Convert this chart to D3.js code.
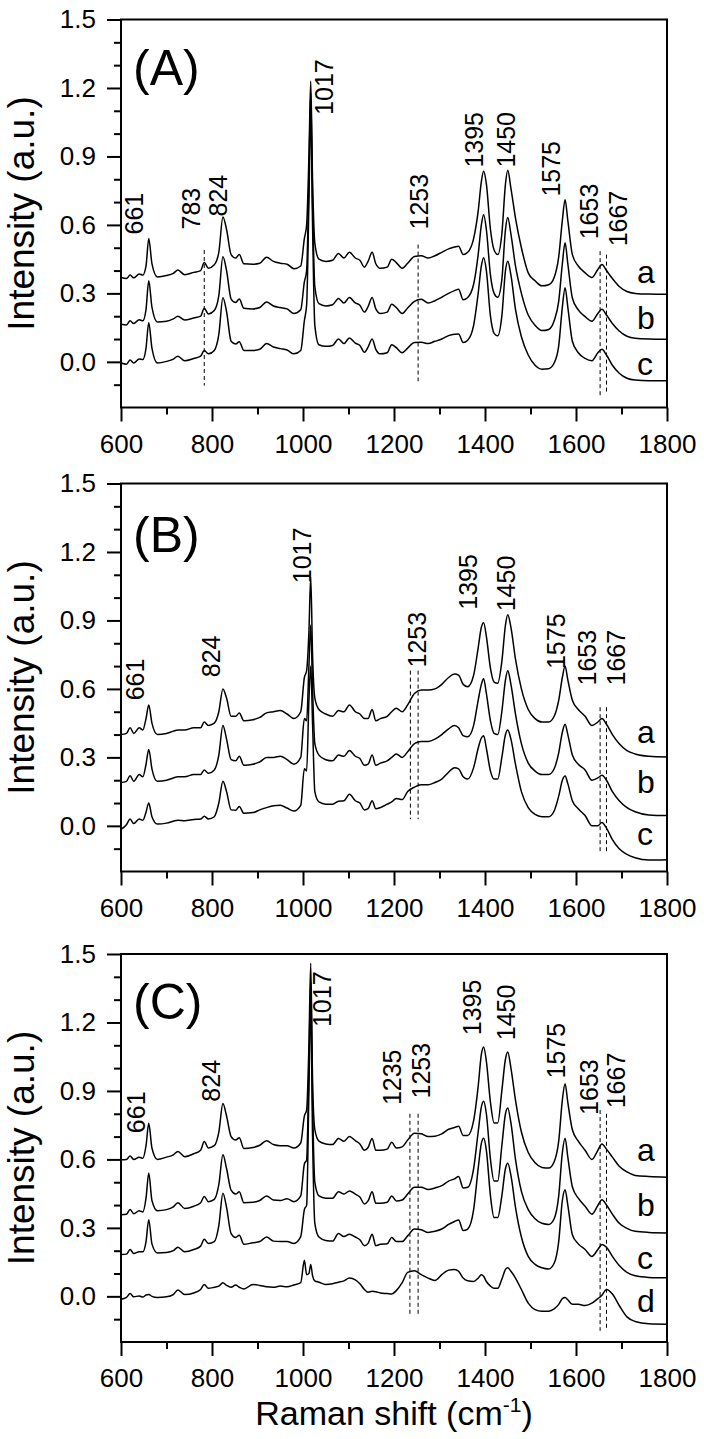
<!DOCTYPE html>
<html><head><meta charset="utf-8">
<script src="https://cdn.jsdelivr.net/npm/d3@7"></script>
<style>
body{margin:0;background:#fff}
svg{display:block}
text{font-family:"Liberation Sans",Arial,Helvetica,sans-serif;fill:#000}
</style>
</head><body>
<svg id="chart" width="704" height="1439"></svg>
<script>
// ---------- DATA ----------
const wavenumbers = [600,612,620,628,640,648,655,661,668,680,700,715,725,740,760,775,783,792,805,815,
824,832,842,852,860,870,890,905,920,935,950,965,980,995,1003,1008,1013,1017,1021,1026,
1035,1050,1065,1078,1090,1102,1115,1125,1135,1143,1152,1160,1170,1185,1195,1205,1218,1230,1245,1260,
1275,1290,1305,1320,1333,1342,1352,1362,1375,1385,1392,1397,1403,1412,1420,1428,1437,1445,1450,1457,
1467,1480,1495,1510,1525,1540,1552,1562,1570,1576,1582,1592,1605,1620,1635,1648,1657,1667,1680,1695,
1712,1730,1760,1800];

const panelA_a = [0.370,0.365,0.380,0.368,0.385,0.380,0.420,0.540,0.430,0.372,0.378,0.388,0.402,0.382,0.392,0.400,0.435,0.410,0.425,0.480,
0.635,0.580,0.470,0.455,0.470,0.430,0.428,0.432,0.458,0.440,0.432,0.428,0.408,0.420,0.540,0.600,0.900,1.230,0.800,0.520,
0.450,0.440,0.445,0.475,0.455,0.480,0.455,0.445,0.415,0.440,0.480,0.430,0.410,0.415,0.450,0.435,0.410,0.432,0.462,0.465,
0.455,0.465,0.480,0.495,0.503,0.507,0.470,0.480,0.540,0.660,0.790,0.835,0.780,0.580,0.490,0.470,0.560,0.780,0.840,0.760,
0.630,0.500,0.390,0.355,0.333,0.338,0.370,0.460,0.620,0.710,0.620,0.470,0.420,0.390,0.370,0.405,0.427,0.400,0.365,0.330,
0.308,0.300,0.297,0.296];
const panelA_b = [0.165,0.162,0.180,0.168,0.185,0.180,0.230,0.355,0.240,0.175,0.178,0.188,0.200,0.183,0.192,0.200,0.235,0.210,0.225,0.290,
0.460,0.400,0.275,0.260,0.275,0.235,0.232,0.238,0.262,0.245,0.238,0.232,0.212,0.228,0.350,0.400,0.800,1.180,0.700,0.330,
0.255,0.245,0.250,0.278,0.258,0.282,0.258,0.248,0.218,0.242,0.282,0.232,0.212,0.218,0.252,0.238,0.212,0.236,0.265,0.274,
0.258,0.268,0.283,0.300,0.312,0.318,0.272,0.282,0.340,0.470,0.600,0.645,0.580,0.380,0.300,0.283,0.360,0.580,0.632,0.560,
0.420,0.300,0.205,0.160,0.137,0.142,0.180,0.265,0.430,0.522,0.430,0.280,0.228,0.198,0.178,0.212,0.230,0.205,0.168,0.135,
0.112,0.103,0.100,0.099];
const panelA_c = [-0.005,-0.010,0.008,-0.005,0.012,0.010,0.060,0.172,0.060,-0.005,0.002,0.012,0.025,0.005,0.015,0.025,0.050,0.035,0.050,0.120,
0.281,0.220,0.090,0.078,0.088,0.050,0.050,0.055,0.080,0.065,0.058,0.052,0.035,0.050,0.180,0.250,0.700,1.100,0.600,0.160,
0.075,0.068,0.072,0.100,0.080,0.105,0.082,0.072,0.042,0.065,0.100,0.055,0.035,0.040,0.075,0.062,0.040,0.060,0.085,0.086,
0.080,0.090,0.100,0.115,0.121,0.122,0.085,0.095,0.160,0.300,0.420,0.456,0.400,0.200,0.125,0.114,0.200,0.400,0.441,0.380,
0.230,0.110,0.030,-0.015,-0.032,-0.030,-0.005,0.070,0.240,0.325,0.240,0.090,0.040,0.015,0.005,0.040,0.055,0.030,-0.015,-0.050,
-0.072,-0.080,-0.083,-0.083];

const panelB_a = [0.400,0.405,0.430,0.405,0.430,0.420,0.470,0.530,0.450,0.400,0.405,0.415,0.420,0.420,0.430,0.430,0.455,0.440,0.450,0.500,
0.600,0.560,0.480,0.480,0.495,0.460,0.465,0.475,0.495,0.500,0.505,0.490,0.470,0.500,0.650,0.680,0.850,1.090,0.750,0.560,
0.510,0.490,0.480,0.505,0.500,0.530,0.500,0.490,0.470,0.470,0.510,0.460,0.470,0.480,0.500,0.515,0.500,0.530,0.580,0.595,
0.595,0.600,0.620,0.650,0.665,0.660,0.620,0.610,0.660,0.780,0.870,0.890,0.830,0.690,0.630,0.625,0.720,0.880,0.925,0.870,
0.730,0.600,0.510,0.470,0.455,0.455,0.480,0.550,0.650,0.700,0.640,0.550,0.510,0.480,0.440,0.455,0.470,0.445,0.400,0.360,
0.330,0.315,0.305,0.302];
const panelB_b = [0.190,0.195,0.220,0.195,0.225,0.215,0.270,0.335,0.250,0.195,0.200,0.210,0.215,0.215,0.225,0.225,0.245,0.230,0.245,0.310,
0.440,0.380,0.290,0.285,0.305,0.265,0.270,0.280,0.300,0.300,0.305,0.290,0.270,0.300,0.470,0.460,0.700,0.880,0.600,0.360,
0.310,0.290,0.285,0.310,0.305,0.330,0.305,0.295,0.265,0.270,0.310,0.265,0.275,0.285,0.300,0.315,0.300,0.325,0.360,0.370,
0.370,0.380,0.400,0.425,0.440,0.430,0.395,0.390,0.440,0.550,0.620,0.645,0.580,0.460,0.405,0.400,0.500,0.640,0.680,0.620,
0.490,0.360,0.275,0.240,0.225,0.225,0.250,0.320,0.410,0.445,0.400,0.310,0.270,0.245,0.200,0.210,0.222,0.200,0.150,0.110,
0.080,0.062,0.048,0.045];
const panelB_c = [-0.015,0.005,0.030,0.010,0.030,0.025,0.060,0.100,0.040,0.008,0.012,0.020,0.025,0.022,0.028,0.030,0.042,0.030,0.040,0.100,
0.195,0.150,0.070,0.068,0.085,0.055,0.058,0.070,0.080,0.088,0.090,0.078,0.065,0.090,0.250,0.240,0.550,0.700,0.450,0.150,
0.105,0.095,0.095,0.108,0.110,0.138,0.110,0.100,0.070,0.075,0.110,0.075,0.080,0.095,0.105,0.120,0.115,0.150,0.170,0.180,
0.180,0.190,0.205,0.235,0.255,0.250,0.215,0.205,0.255,0.340,0.385,0.395,0.340,0.240,0.205,0.205,0.300,0.400,0.420,0.380,
0.270,0.150,0.080,0.050,0.040,0.040,0.065,0.130,0.200,0.218,0.185,0.110,0.075,0.045,0.000,0.000,0.015,-0.010,-0.060,-0.100,
-0.125,-0.140,-0.150,-0.148];

const panelC_a = [0.598,0.600,0.615,0.600,0.610,0.605,0.660,0.758,0.650,0.600,0.610,0.620,0.635,0.612,0.625,0.640,0.678,0.650,0.660,0.720,
0.845,0.790,0.700,0.685,0.695,0.648,0.652,0.662,0.682,0.665,0.660,0.660,0.650,0.672,0.790,0.816,1.100,1.460,0.950,0.730,
0.680,0.668,0.665,0.692,0.680,0.700,0.682,0.668,0.640,0.652,0.692,0.640,0.640,0.645,0.675,0.650,0.655,0.685,0.715,0.712,
0.700,0.702,0.712,0.732,0.740,0.745,0.705,0.705,0.770,0.920,1.060,1.093,1.030,0.850,0.760,0.760,0.900,1.040,1.071,1.000,
0.860,0.720,0.630,0.585,0.565,0.562,0.590,0.680,0.860,0.932,0.850,0.730,0.680,0.640,0.600,0.640,0.668,0.645,0.610,0.570,
0.545,0.530,0.525,0.522];
const panelC_b = [0.358,0.360,0.380,0.362,0.375,0.370,0.430,0.540,0.420,0.375,0.380,0.392,0.410,0.385,0.395,0.410,0.438,0.415,0.425,0.490,
0.620,0.560,0.465,0.448,0.458,0.410,0.412,0.420,0.440,0.422,0.420,0.428,0.415,0.440,0.580,0.598,1.000,1.380,0.850,0.500,
0.440,0.430,0.430,0.458,0.448,0.462,0.448,0.435,0.405,0.418,0.458,0.408,0.408,0.412,0.440,0.418,0.422,0.448,0.478,0.478,
0.468,0.475,0.485,0.505,0.515,0.525,0.475,0.478,0.560,0.720,0.830,0.855,0.800,0.600,0.505,0.505,0.660,0.800,0.825,0.760,
0.600,0.460,0.380,0.340,0.320,0.315,0.340,0.440,0.630,0.693,0.610,0.480,0.430,0.395,0.360,0.398,0.423,0.400,0.360,0.320,
0.298,0.285,0.280,0.278];
const panelC_c = [0.183,0.185,0.205,0.188,0.195,0.195,0.240,0.336,0.230,0.190,0.192,0.200,0.215,0.195,0.205,0.220,0.250,0.232,0.240,0.310,
0.452,0.390,0.275,0.258,0.268,0.228,0.235,0.240,0.260,0.242,0.240,0.240,0.232,0.262,0.380,0.400,0.900,1.280,0.700,0.320,
0.260,0.245,0.242,0.275,0.262,0.272,0.260,0.248,0.222,0.232,0.272,0.222,0.228,0.230,0.258,0.240,0.240,0.265,0.295,0.292,
0.280,0.285,0.295,0.315,0.328,0.335,0.288,0.295,0.380,0.560,0.670,0.693,0.640,0.440,0.345,0.345,0.440,0.560,0.583,0.530,
0.390,0.260,0.175,0.140,0.125,0.120,0.145,0.240,0.420,0.467,0.400,0.270,0.230,0.205,0.175,0.205,0.227,0.215,0.175,0.135,
0.105,0.090,0.083,0.081];
const panelC_d = [-0.013,-0.005,0.012,-0.002,0.002,-0.003,0.006,0.008,0.000,-0.005,-0.002,0.008,0.028,0.008,0.015,0.030,0.052,0.035,0.040,0.045,
0.060,0.048,0.040,0.050,0.040,0.032,0.052,0.048,0.042,0.040,0.045,0.042,0.050,0.060,0.158,0.095,0.100,0.140,0.090,0.068,
0.062,0.052,0.055,0.062,0.068,0.080,0.072,0.055,0.030,0.018,0.022,0.020,0.015,0.012,0.010,0.025,0.060,0.105,0.112,0.095,
0.080,0.070,0.095,0.115,0.118,0.110,0.080,0.068,0.065,0.080,0.095,0.088,0.065,0.045,0.035,0.035,0.075,0.118,0.125,0.110,
0.080,0.030,-0.030,-0.058,-0.065,-0.065,-0.055,-0.035,-0.010,-0.005,-0.015,-0.035,-0.035,-0.040,-0.030,-0.010,0.005,0.030,0.010,-0.040,
-0.090,-0.110,-0.120,-0.122];

const xTickValues = [600,800,1000,1200,1400,1600,1800];
const xMinorTicks = [700,900,1100,1300,1500,1700];
const yTickValues = [0.0,0.3,0.6,0.9,1.2,1.5];
const yMinorTicks = [-0.1,0.1,0.2,0.4,0.5,0.7,0.8,1.0,1.1,1.3,1.4];

const panelTitles = ["(A)","(B)","(C)"];
const seriesA = [["a",panelA_a,0.344],["b",panelA_b,0.143],["c",panelA_c,-0.058]];
const seriesB = [["a",panelB_a,0.364],["b",panelB_b,0.145],["c",panelB_c,-0.086]];
const seriesC = [["a",panelC_a,0.592],["b",panelC_b,0.353],["c",panelC_c,0.120],["d",panelC_d,-0.069]];

// peak labels: text, wavenumber of label baseline, intensity at label start
const peaksA = [["661",649,0.558],["783",774,0.580],["824",833,0.637],["1017",1066,1.082],["1253",1275,0.580],
  ["1395",1396,0.851],["1450",1466,0.851],["1575",1565,0.724],["1653",1648,0.537],["1667",1712,0.506]];
const peaksB = [["661",650,0.550],["824",818,0.651],["1017",1018,1.063],["1253",1270,0.694],
  ["1395",1382,0.947],["1450",1466,0.940],["1575",1575,0.687],["1653",1644,0.615],["1667",1708,0.615]];
const peaksC = [["661",653,0.715],["824",818,0.853],["1017",1062,1.180],["1235",1216,0.838],["1253",1279,0.867],
  ["1395",1391,1.144],["1450",1466,1.122],["1575",1575,0.955],["1653",1648,0.795],["1667",1708,0.824]];

// dashed marker lines: wavenumber, top, bottom
const dashA = [[783,0.49,-0.104],[1253,0.514,-0.085],[1653,0.485,-0.155],[1667,0.47,-0.14]];
const dashB = [[1236,0.68,0.029],[1253,0.68,0.029],[1653,0.52,-0.123],[1667,0.52,-0.123]];
const dashC = [[1235,0.80,-0.086],[1253,0.80,-0.086],[1653,0.816,-0.151],[1667,0.80,-0.151]];

// ---------- LAYOUT ----------
const svg = d3.select("#chart");
const left = 121, right = 667, plotH = 388;
const tops = [19.5, 483.5, 954];
const titleDy = [65, 68, 65];
const panels = [
  {series: seriesA, peaks: peaksA, dash: dashA},
  {series: seriesB, peaks: peaksB, dash: dashB},
  {series: seriesC, peaks: peaksC, dash: dashC}
];

const x = d3.scaleLinear().domain([600,1800]).range([left,right]);

panels.forEach((p, i) => {
  const top = tops[i];
  const y = d3.scaleLinear().domain([-0.2,1.5]).range([top + plotH, top]);
  const g = svg.append("g");

  // spectra
  const line = d3.line()
    .x((d, k) => x(wavenumbers[k]))
    .y(d => y(d))
    .curve(d3.curveMonotoneX);
  p.series.forEach(s => {
    g.append("path").attr("d", line(s[1]))
      .attr("fill","none").attr("stroke","#000").attr("stroke-width",1.5)
      .attr("stroke-linejoin","round");
    g.append("text").attr("x", 637).attr("y", y(s[2]))
      .attr("font-size", 32).text(s[0]);
  });

  // dashed lines
  p.dash.forEach(d => {
    g.append("line").attr("x1", x(d[0])).attr("x2", x(d[0]))
      .attr("y1", y(d[1])).attr("y2", y(d[2]))
      .attr("stroke","#000").attr("stroke-width",1).attr("stroke-dasharray","4,3");
  });

  // peak labels
  p.peaks.forEach(d => {
    g.append("text")
      .attr("transform", `translate(${x(d[1])},${y(d[2])}) rotate(-90)`)
      .attr("font-size", 25).text(d[0]);
  });

  // frame
  g.append("rect").attr("x", left).attr("y", top).attr("width", right-left).attr("height", plotH)
    .attr("fill","none").attr("stroke","#000").attr("stroke-width",2);

  // x axis
  const xAxis = g.append("g").attr("transform", `translate(0,${top+plotH})`)
    .call(d3.axisBottom(x).tickValues(xTickValues).tickSize(14).tickPadding(13).tickFormat(d3.format("d")));
  xAxis.call(a => a.select(".domain").remove());
  xAxis.selectAll("line").attr("stroke-width",2);
  xAxis.selectAll("text").attr("font-size",26).attr("font-family",'"Liberation Sans",Arial,sans-serif');
  const xMin = g.append("g").attr("transform", `translate(0,${top+plotH})`)
    .call(d3.axisBottom(x).tickValues(xMinorTicks).tickSize(7).tickFormat(""));
  xMin.call(a => a.select(".domain").remove());
  xMin.selectAll("line").attr("stroke-width",2);

  // y axis
  const yAxis = g.append("g").attr("transform", `translate(${left},0)`)
    .call(d3.axisLeft(y).tickValues(yTickValues).tickSize(14).tickPadding(11).tickFormat(d3.format(".1f")));
  yAxis.call(a => a.select(".domain").remove());
  yAxis.selectAll("line").attr("stroke-width",2);
  yAxis.selectAll("text").attr("font-size",26).attr("font-family",'"Liberation Sans",Arial,sans-serif');
  const yMin = g.append("g").attr("transform", `translate(${left},0)`)
    .call(d3.axisLeft(y).tickValues(yMinorTicks).tickSize(7).tickFormat(""));
  yMin.call(a => a.select(".domain").remove());
  yMin.selectAll("line").attr("stroke-width",2);

  // panel title
  g.append("text").attr("x", 133).attr("y", top + titleDy[i]).attr("font-size", 50).text(panelTitles[i]);

  // y axis title
  g.append("text").attr("transform", `translate(34,${top + plotH/2}) rotate(-90)`)
    .attr("text-anchor","middle").attr("font-size", 37).text("Intensity (a.u.)");
});

// x axis title
const xt = svg.append("text").attr("x", (left+right)/2).attr("y", 1425)
  .attr("text-anchor","middle").attr("font-size", 34);
xt.append("tspan").text("Raman shift (cm");
xt.append("tspan").attr("font-size", 21).attr("dy", -13).text("-1");
xt.append("tspan").attr("dy", 13).text(")");
</script>
</body></html>
